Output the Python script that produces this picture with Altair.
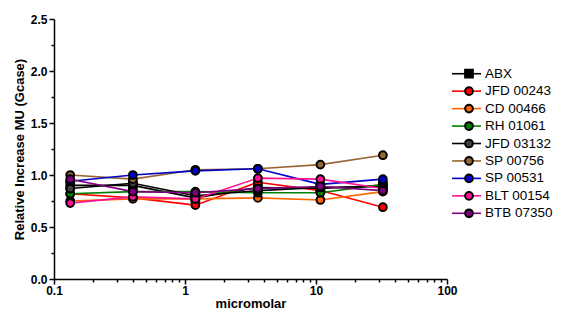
import altair as alt
import pandas as pd

# ---- data ----
conc = [0.133, 0.4, 1.2, 3.6, 10.8, 32.4]
series_names = ["ABX", "JFD 00243", "CD 00466", "RH 01061", "JFD 03132",
                "SP 00756", "SP 00531", "BLT 00154", "BTB 07350"]
abx      = [0.90, 0.90, 0.78, 0.88, 0.87, 0.90]
jfd00243 = [0.82, 0.78, 0.71, 0.93, 0.85, 0.69]
cd00466  = [0.75, 0.77, 0.77, 0.78, 0.76, 0.84]
rh01061  = [0.82, 0.84, 0.84, 0.83, 0.83, 0.91]
jfd03132 = [0.87, 0.92, 0.80, 0.85, 0.88, 0.89]
sp00756  = [1.00, 0.96, 1.05, 1.06, 1.10, 1.19]
sp00531  = [0.94, 1.00, 1.04, 1.06, 0.91, 0.96]
blt00154 = [0.73, 0.79, 0.77, 0.97, 0.96, 0.87]
btb07350 = [0.96, 0.84, 0.83, 0.87, 0.89, 0.85]
values = [abx, jfd00243, cd00466, rh01061, jfd03132, sp00756, sp00531, blt00154, btb07350]

x_ticks = [0.1, 0.2, 0.3, 0.4, 0.5, 0.6, 0.7, 0.8, 0.9,
           1, 2, 3, 4, 5, 6, 7, 8, 9,
           10, 20, 30, 40, 50, 60, 70, 80, 90, 100]
y_ticks = [0, 0.25, 0.5, 0.75, 1, 1.25, 1.5, 1.75, 2, 2.25, 2.5]

line_colors = ["#000000", "#FF0000", "#FF6600", "#008000", "#000000",
               "#996633", "#0000CC", "#FF1493", "#800080"]
fill_colors = ["#000000", "#FF0000", "#FF6600", "#008000", "#404040",
               "#996633", "#0000CC", "#FF1493", "#800080"]
shapes = ["square"] + ["circle"] * 8

rows = []
for name, vals in zip(series_names, values):
    for c, v in zip(conc, vals):
        rows.append({"series": name, "conc": c, "value": v})
df = pd.DataFrame(rows)
leg_df = pd.DataFrame({"series": series_names})

FONT = "Liberation Sans"

color_scale = alt.Scale(domain=series_names, range=line_colors)
fill_scale = alt.Scale(domain=series_names, range=fill_colors)
shape_scale = alt.Scale(domain=series_names, range=shapes)

x_axis = alt.Axis(
    values=x_ticks, format="~g",
    labelExpr="indexof(['0.1','1','10','100'], datum.label) >= 0 ? datum.label : ''",
    tickSize={"condition": {"test": "indexof([0.1,1,10,100], datum.value) >= 0", "value": 5}, "value": 3},
    labelOverlap=False, labelFlush=False, labelPadding=1, titlePadding=1, title="micromolar",
)
y_axis = alt.Axis(
    values=y_ticks,
    labelExpr="indexof([0,0.5,1,1.5,2,2.5], datum.value) >= 0 ? format(datum.value, '.1f') : ''",
    tickSize={"condition": {"test": "indexof([0,0.5,1,1.5,2,2.5], datum.value) >= 0", "value": 5}, "value": 3},
    labelOverlap=False, labelFlush=False, labelPadding=2, titlePadding=4,
    title="Relative Increase MU (Gcase)",
)

x_enc = alt.X("conc:Q", scale=alt.Scale(type="log", domain=[0.1, 100], nice=False), axis=x_axis)
y_enc = alt.Y("value:Q", scale=alt.Scale(domain=[0, 2.5], nice=False), axis=y_axis)

base = alt.Chart(df)
lines = base.mark_line(strokeWidth=1.6).encode(
    x=x_enc, y=y_enc,
    color=alt.Color("series:N", scale=color_scale, legend=None),
    detail="series:N",
    order=alt.Order("conc:Q"),
)
points = base.mark_point(filled=True, stroke="black", strokeWidth=2, size=60, opacity=1).encode(
    x=x_enc, y=y_enc,
    fill=alt.Fill("series:N", scale=fill_scale, legend=None),
    shape=alt.Shape("series:N", scale=shape_scale, legend=None),
)
main = alt.layer(lines, points).properties(width=393, height=260)

leg_y = alt.Y("series:N", scale=alt.Scale(type="point", domain=series_names, range=[46, 203]), axis=None)
leg_base = alt.Chart(leg_df)
leg_rule = leg_base.mark_rule(strokeWidth=1.6).encode(
    x=alt.value(5), x2=alt.value(34), y=leg_y,
    color=alt.Color("series:N", scale=color_scale, legend=None),
)
leg_pts = leg_base.mark_point(filled=True, stroke="black", strokeWidth=2, size=60, opacity=1).encode(
    x=alt.value(22), y=leg_y,
    fill=alt.Fill("series:N", scale=fill_scale, legend=None),
    shape=alt.Shape("series:N", scale=shape_scale, legend=None),
)
leg_txt = leg_base.mark_text(align="left", baseline="middle", font=FONT, fontSize=13.5, color="black").encode(
    x=alt.value(38), y=leg_y, text="series:N",
)
legend = alt.layer(leg_rule, leg_pts, leg_txt).properties(width=70, height=260)

chart = alt.hconcat(main, legend, spacing=0, bounds="flush").properties(
    padding={"left": 5, "top": 5, "right": 0, "bottom": 0}
).configure_view(
    stroke=None
).configure_axis(
    grid=False, domainColor="black", domainWidth=1.5, tickColor="black", tickWidth=1.5,
    labelFont=FONT, labelFontSize=12, labelFontWeight="bold", labelColor="black",
    titleFont=FONT, titleFontSize=13, titleFontWeight="bold", titleColor="black",
)

chart.save("out.html", embed_options={"renderer": "svg", "actions": False})
